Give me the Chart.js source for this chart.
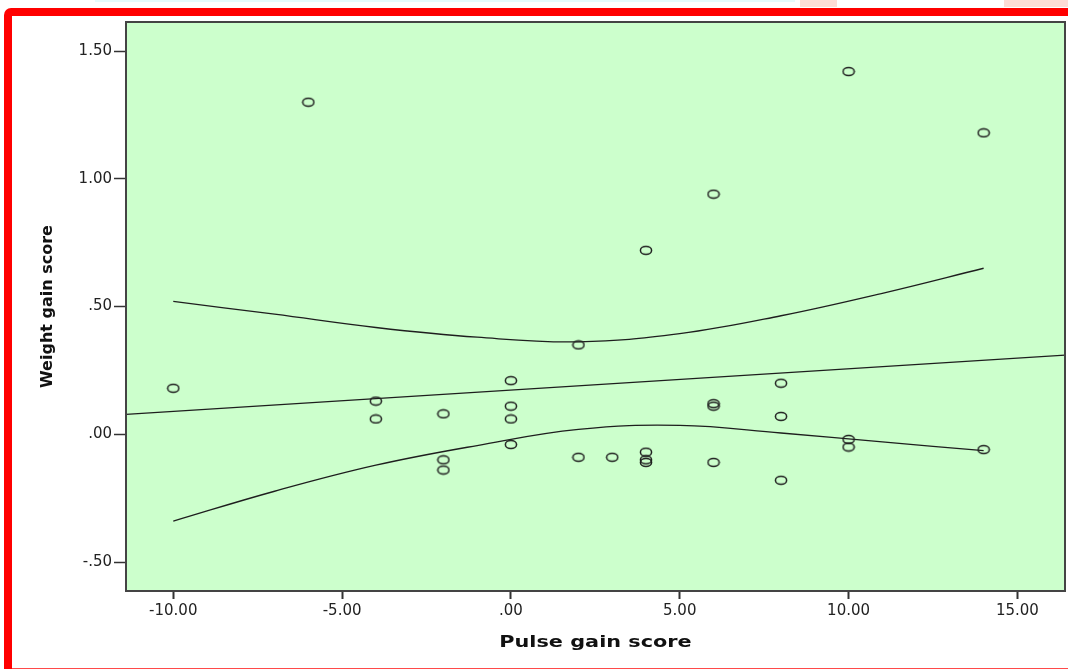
<!DOCTYPE html>
<html>
<head>
<meta charset="utf-8">
<script src="https://cdn.jsdelivr.net/npm/chart.js@4.4.1/dist/chart.umd.min.js"></script>
<style>
  html, body { margin: 0; padding: 0; background: #fff; }
  canvas { display: block; }
</style>
</head>
<body>
<canvas id="scatter" width="1068" height="669"></canvas>
<script>
// Weight gain vs pulse gain, with fit line and 95% mean confidence curves.

const pulseGain = [-10, -6, -4, -4, -2, -2, -2, 0, 0, 0, 0, 2, 2, 3, 4, 4, 4, 4,
                   6, 6, 6, 6, 8, 8, 8, 10, 10, 10, 14, 14];
const weightGain = [0.18, 1.30, 0.13, 0.06, 0.08, -0.10, -0.14, 0.21, 0.11, 0.06, -0.04, 0.35, -0.09, -0.09, 0.72, -0.07, -0.10, -0.11,
                    0.94, 0.12, 0.11, -0.11, 0.20, 0.07, -0.18, 1.42, -0.02, -0.05, 1.18, -0.06];

// fit line, spans the full plot width
const fitX = [-11.4, 16.41];
const fitY = [0.078, 0.31];

// confidence curves
const ciX = [-10, -7, -4, -1, 2, 5, 8, 11, 14];
const ciUpper = [0.52, 0.47, 0.418, 0.38, 0.362, 0.394, 0.464, 0.552, 0.65];
const ciLower = [-0.34, -0.223, -0.121, -0.044, 0.019, 0.035, 0.005, -0.03, -0.064];

const xTicks = [-10, -5, 0, 5, 10, 15];
const xTickLabels = ['-10.00', '-5.00', '.00', '5.00', '10.00', '15.00'];
const yTicks = [-0.5, 0, 0.5, 1, 1.5];
const yTickLabels = ['-.50', '.00', '.50', '1.00', '1.50'];

const zip = (xs, ys) => xs.map((x, i) => ({ x, y: ys[i] }));

// open ellipse marker, a bit wider than tall
function ringMarker() {
  const c = document.createElement('canvas');
  c.width = 14; c.height = 11;
  const g = c.getContext('2d');
  g.strokeStyle = '#1f1f1f';
  g.lineWidth = 1.5;
  g.beginPath();
  g.ellipse(7, 5.5, 5.6, 4, 0, 0, Math.PI * 2);
  g.stroke();
  return c;
}

const framePlugin = {
  id: 'frame',
  beforeDraw(chart) {
    const { ctx, width, height, chartArea: a } = chart;
    ctx.save();
    ctx.fillStyle = '#fff';
    ctx.fillRect(0, 0, width, height);
    // faint strip above the frame
    ctx.fillStyle = '#e6fbfd';
    ctx.fillRect(95, 0, 700, 2);
    ctx.fillStyle = '#fddcd6';
    ctx.fillRect(800, 0, 37, 7);
    ctx.fillRect(1004, 0, 64, 7);
    // red frame, rounded at the top left
    ctx.fillStyle = '#ff0000';
    ctx.beginPath();
    ctx.roundRect(4, 8, width - 4, height - 8, [7, 0, 0, 0]);
    ctx.fill();
    ctx.fillStyle = '#fff';
    ctx.fillRect(12, 16, width - 12, height - 17);
    ctx.fillStyle = '#ff4a4a';
    ctx.fillRect(12, height - 1, width - 12, 1);
    // plot background
    ctx.fillStyle = '#ccffcc';
    ctx.fillRect(a.left, a.top, a.right - a.left, a.bottom - a.top);
    ctx.restore();
  },
  afterDraw(chart) {
    const { ctx, chartArea: a } = chart;
    ctx.save();
    ctx.strokeStyle = '#444';
    ctx.lineWidth = 2;
    ctx.strokeRect(a.left, a.top, a.right - a.left, a.bottom - a.top);
    // x title, drawn slightly stretched like the original
    ctx.fillStyle = '#111';
    ctx.font = 'bold 16px "DejaVu Sans"';
    ctx.textAlign = 'center';
    ctx.textBaseline = 'middle';
    ctx.translate((a.left + a.right) / 2, 643);
    ctx.scale(1.3, 1);
    ctx.fillText('Pulse gain score', 0, 0);
    ctx.restore();
  }
};

const lineStyle = {
  type: 'line',
  borderColor: '#1e1e1e',
  borderWidth: 1.3,
  pointRadius: 0,
  fill: false,
};

new Chart(document.getElementById('scatter'), {
  type: 'scatter',
  data: {
    datasets: [
      { ...lineStyle, label: 'Fit', data: zip(fitX, fitY), tension: 0 },
      { ...lineStyle, label: 'Upper 95%', data: zip(ciX, ciUpper), tension: 0.4 },
      { ...lineStyle, label: 'Lower 95%', data: zip(ciX, ciLower), tension: 0.4 },
      {
        label: 'Weight gain score',
        data: zip(pulseGain, weightGain),
        pointStyle: ringMarker(),
        pointRadius: 6,
        pointHoverRadius: 6,
      },
    ],
  },
  options: {
    responsive: false,
    animation: false,
    layout: { autoPadding: false, padding: { left: 0, top: 22, right: 3, bottom: 0 } },
    plugins: { legend: { display: false }, tooltip: { enabled: false } },
    scales: {
      x: {
        type: 'linear',
        min: -11.4,
        max: 16.41,
        afterBuildTicks: s => { s.ticks = xTicks.map(v => ({ value: v })); },
        afterFit: s => { s.height = 78; s.paddingLeft = 0; s.paddingRight = 0; },
        border: { display: false },
        grid: { drawOnChartArea: false, tickLength: 8, tickWidth: 2, tickColor: '#333' },
        ticks: {
          padding: 3,
          color: '#222',
          font: { family: 'DejaVu Sans', size: 15 },
          callback: v => xTickLabels[xTicks.indexOf(v)],
        },
      },
      y: {
        type: 'linear',
        min: -0.6135,
        max: 1.614,
        afterBuildTicks: s => { s.ticks = yTicks.map(v => ({ value: v })); },
        afterFit: s => { s.width = 126; s.paddingTop = 0; s.paddingBottom = 0; },
        border: { display: false },
        grid: { drawOnChartArea: false, tickLength: 12, tickWidth: 1.5, tickColor: '#333' },
        ticks: {
          padding: 2,
          color: '#222',
          font: { family: 'DejaVu Sans', size: 15 },
          callback: v => yTickLabels[yTicks.indexOf(v)],
        },
        title: {
          display: true,
          text: 'Weight gain score',
          color: '#111',
          font: { family: 'DejaVu Sans', size: 16, weight: 'bold' },
          padding: { top: 38 },
        },
      },
    },
  },
  plugins: [framePlugin],
});
</script>
</body>
</html>
